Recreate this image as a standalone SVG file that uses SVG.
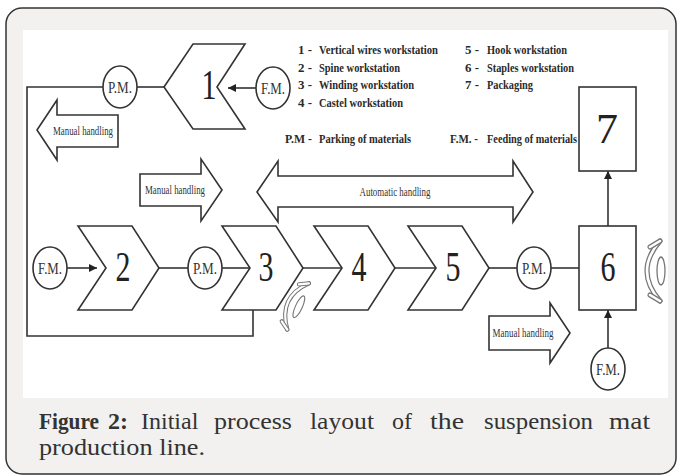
<svg xmlns="http://www.w3.org/2000/svg" width="680" height="475" viewBox="0 0 680 475">
  <style>
    .ln { fill: none; stroke: #333; stroke-width: 1.6; }
    .shape { fill: #fff; stroke: #333; stroke-width: 1.6; stroke-linejoin: miter; }
    .digit { font-family: "Liberation Serif", serif; font-size: 42px; fill: #222; text-anchor: middle; }
    .circ { font-family: "Liberation Serif", serif; font-size: 16px; fill: #333; text-anchor: middle; }
    .leg { font-family: "Liberation Serif", serif; font-size: 13px; font-weight: bold; fill: #2a2a2a; }
    .hand { font-family: "Liberation Serif", serif; font-size: 12px; fill: #333; text-anchor: middle; }
    .cap { font-family: "Liberation Serif", serif; font-size: 24px; fill: #333; }
    .icon-band { fill: none; stroke: #777; stroke-width: 5; stroke-linecap: round; }
    .icon-core { fill: none; stroke: #fff; stroke-width: 2.6; stroke-linecap: round; }
    .icon-ring { fill: #fff; stroke: #777; stroke-width: 1.3; }
  </style>
  <defs>
    <marker id="head" viewBox="0 0 10 10" refX="10" refY="5" markerWidth="9" markerHeight="8" markerUnits="userSpaceOnUse" orient="auto">
      <path d="M0 0 L10 5 L0 10 Z" fill="#222"/>
    </marker>
    <!-- rotation symbol: curved band with hooked ends and a side ring -->
    <g id="rotate-icon">
      <path class="icon-band" d="M4 -30 Q-22 0 4 30"/>
      <path class="icon-core" d="M4 -30 Q-22 0 4 30"/>
      <path class="icon-band" d="M4 -30 L-6 -24 M4 30 L-6 24"/>
      <path class="icon-core" d="M4 -30 L-6 -24 M4 30 L-6 24"/>
      <ellipse class="icon-ring" cx="5" cy="0" rx="4" ry="14"/>
    </g>
  </defs>

  <!-- card and white figure panel -->
  <rect x="6" y="8" width="670" height="466" rx="16" fill="#f2f1ef" stroke="#333" stroke-width="1.5"/>
  <rect x="23" y="30" width="645" height="368" fill="#fff"/>

  <!-- connectors -->
  <g id="connectors">
    <polyline class="ln" points="103,87 27,87 27,336 253,336 253,310"/>
    <line class="ln" x1="137" y1="87" x2="164" y2="87"/>
    <line class="ln" x1="256" y1="88" x2="228" y2="88" marker-end="url(#head)"/>
    <line class="ln" x1="67" y1="268" x2="97" y2="268" marker-end="url(#head)"/>
    <line class="ln" x1="159" y1="268" x2="188" y2="268"/>
    <line class="ln" x1="222" y1="268" x2="250" y2="268"/>
    <line class="ln" x1="303" y1="268" x2="342" y2="268"/>
    <line class="ln" x1="395" y1="268" x2="436" y2="268"/>
    <line class="ln" x1="489" y1="268" x2="517" y2="268"/>
    <line class="ln" x1="551" y1="268" x2="579" y2="268"/>
    <line class="ln" x1="608" y1="348" x2="608" y2="310" marker-end="url(#head)"/>
    <line class="ln" x1="608" y1="226" x2="608" y2="171" marker-end="url(#head)"/>
  </g>

  <!-- workstations -->
  <g id="ws1">
    <polygon class="shape" points="164,87 193,44 245,44 217,87 245,129 193,129"/>
    <text class="digit" x="209" y="99" textLength="15" lengthAdjust="spacingAndGlyphs">1</text>
  </g>
  <g id="ws2">
    <polygon class="shape" points="78,226 132,226 159,268 132,310 78,310 106,268"/>
    <text class="digit" x="123" y="281" textLength="15" lengthAdjust="spacingAndGlyphs">2</text>
  </g>
  <g id="ws3">
    <polygon class="shape" points="222,226 276,226 303,268 276,310 222,310 250,268"/>
    <text class="digit" x="266" y="281" textLength="15" lengthAdjust="spacingAndGlyphs">3</text>
  </g>
  <g id="ws4">
    <polygon class="shape" points="314,226 368,226 395,268 368,310 314,310 342,268"/>
    <text class="digit" x="359" y="281" textLength="15" lengthAdjust="spacingAndGlyphs">4</text>
  </g>
  <g id="ws5">
    <polygon class="shape" points="408,226 462,226 489,268 462,310 408,310 436,268"/>
    <text class="digit" x="453" y="281" textLength="15" lengthAdjust="spacingAndGlyphs">5</text>
  </g>
  <g id="ws6">
    <rect class="shape" x="579" y="226" width="57" height="84"/>
    <text class="digit" x="608" y="281" textLength="15" lengthAdjust="spacingAndGlyphs">6</text>
  </g>
  <g id="ws7">
    <rect class="shape" x="579" y="87" width="57" height="84"/>
    <text class="digit" x="607" y="143" font-size="50" textLength="22" lengthAdjust="spacingAndGlyphs">7</text>
  </g>

  <!-- parking / feeding points -->
  <g id="pm1">
    <ellipse class="shape" cx="120" cy="87" rx="17" ry="21"/>
    <text class="circ" x="120" y="93" textLength="24" lengthAdjust="spacingAndGlyphs">P.M.</text>
  </g>
  <g id="fm1">
    <ellipse class="shape" cx="273" cy="88" rx="17" ry="21"/>
    <text class="circ" x="273" y="94" textLength="24" lengthAdjust="spacingAndGlyphs">F.M.</text>
  </g>
  <g id="fm2">
    <ellipse class="shape" cx="50" cy="268" rx="17" ry="21"/>
    <text class="circ" x="50" y="274" textLength="24" lengthAdjust="spacingAndGlyphs">F.M.</text>
  </g>
  <g id="pm2">
    <ellipse class="shape" cx="205" cy="268" rx="17" ry="21"/>
    <text class="circ" x="205" y="274" textLength="24" lengthAdjust="spacingAndGlyphs">P.M.</text>
  </g>
  <g id="pm3">
    <ellipse class="shape" cx="534" cy="268" rx="17" ry="21"/>
    <text class="circ" x="534" y="274" textLength="24" lengthAdjust="spacingAndGlyphs">P.M.</text>
  </g>
  <g id="fm3">
    <ellipse class="shape" cx="608" cy="369" rx="17" ry="21"/>
    <text class="circ" x="608" y="375" textLength="24" lengthAdjust="spacingAndGlyphs">F.M.</text>
  </g>

  <!-- handling arrows -->
  <g id="manual-left">
    <polygon class="shape" points="37,130 57,100 57,115 118,115 118,147 57,147 57,160"/>
    <text class="hand" x="83" y="135" textLength="60" lengthAdjust="spacingAndGlyphs">Manual handling</text>
  </g>
  <g id="manual-mid">
    <polygon class="shape" points="140,174 201,174 201,159 222,190 201,221 201,206 140,206"/>
    <text class="hand" x="175" y="194" textLength="60" lengthAdjust="spacingAndGlyphs">Manual handling</text>
  </g>
  <g id="manual-right">
    <polygon class="shape" points="489,316 550,316 550,303 570,333 550,363 550,350 489,350"/>
    <text class="hand" x="523" y="337" textLength="61" lengthAdjust="spacingAndGlyphs">Manual handling</text>
  </g>
  <g id="automatic">
    <polygon class="shape" points="257,192 278,161 278,176 513,176 513,161 533,192 513,222 513,207 278,207 278,222"/>
    <text class="hand" x="395" y="196" textLength="71" lengthAdjust="spacingAndGlyphs">Automatic handling</text>
  </g>

  <!-- rotation symbols -->
  <use href="#rotate-icon" transform="translate(295,305) rotate(25) scale(0.85)"/>
  <use href="#rotate-icon" transform="translate(656,271)"/>

  <!-- legend -->
  <g id="legend">
    <text class="leg" x="298" y="54" textLength="14" lengthAdjust="spacingAndGlyphs">1 -</text>
    <text class="leg" x="319" y="54" textLength="119" lengthAdjust="spacingAndGlyphs">Vertical wires workstation</text>
    <text class="leg" x="298" y="72" textLength="14" lengthAdjust="spacingAndGlyphs">2 -</text>
    <text class="leg" x="319" y="72" textLength="81" lengthAdjust="spacingAndGlyphs">Spine workstation</text>
    <text class="leg" x="298" y="89" textLength="14" lengthAdjust="spacingAndGlyphs">3 -</text>
    <text class="leg" x="319" y="89" textLength="95" lengthAdjust="spacingAndGlyphs">Winding workstation</text>
    <text class="leg" x="298" y="107" textLength="14" lengthAdjust="spacingAndGlyphs">4 -</text>
    <text class="leg" x="319" y="107" textLength="84" lengthAdjust="spacingAndGlyphs">Castel workstation</text>
    <text class="leg" x="465" y="54" textLength="14" lengthAdjust="spacingAndGlyphs">5 -</text>
    <text class="leg" x="487" y="54" textLength="80" lengthAdjust="spacingAndGlyphs">Hook workstation</text>
    <text class="leg" x="465" y="72" textLength="14" lengthAdjust="spacingAndGlyphs">6 -</text>
    <text class="leg" x="487" y="72" textLength="87" lengthAdjust="spacingAndGlyphs">Staples workstation</text>
    <text class="leg" x="465" y="89" textLength="14" lengthAdjust="spacingAndGlyphs">7 -</text>
    <text class="leg" x="487" y="89" textLength="46" lengthAdjust="spacingAndGlyphs">Packaging</text>
    <text class="leg" x="285" y="143" textLength="27" lengthAdjust="spacingAndGlyphs">P.M -</text>
    <text class="leg" x="319" y="143" textLength="92" lengthAdjust="spacingAndGlyphs">Parking of materials</text>
    <text class="leg" x="450" y="143" textLength="28" lengthAdjust="spacingAndGlyphs">F.M. -</text>
    <text class="leg" x="487" y="143" textLength="90" lengthAdjust="spacingAndGlyphs">Feeding of materials</text>
  </g>

  <!-- caption, justified word by word -->
  <g id="caption">
    <text class="cap" x="39" y="429" font-weight="bold" textLength="60" lengthAdjust="spacingAndGlyphs">Figure</text>
    <text class="cap" x="108" y="429" font-weight="bold">2:</text>
    <text class="cap" x="141" y="429">Initial</text>
    <text class="cap" x="214" y="429" textLength="78" lengthAdjust="spacingAndGlyphs">process</text>
    <text class="cap" x="310" y="429" textLength="64" lengthAdjust="spacingAndGlyphs">layout</text>
    <text class="cap" x="392" y="429">of</text>
    <text class="cap" x="430" y="429" textLength="34" lengthAdjust="spacingAndGlyphs">the</text>
    <text class="cap" x="484" y="429" textLength="109" lengthAdjust="spacingAndGlyphs">suspension</text>
    <text class="cap" x="609" y="429" textLength="41" lengthAdjust="spacingAndGlyphs">mat</text>
    <text class="cap" x="39" y="455" textLength="166" lengthAdjust="spacingAndGlyphs">production line.</text>
  </g>
</svg>
